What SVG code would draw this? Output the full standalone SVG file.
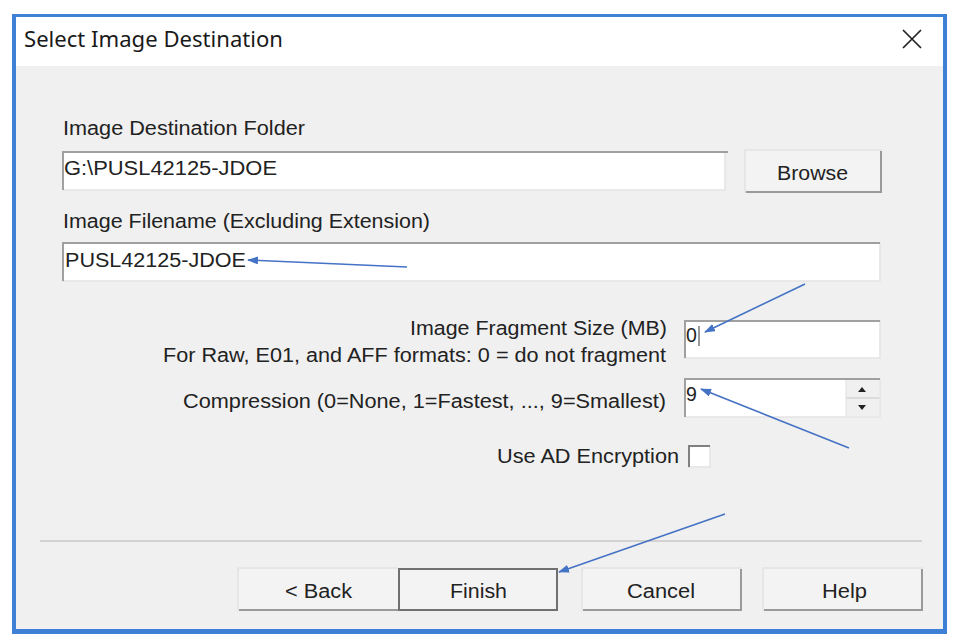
<svg xmlns="http://www.w3.org/2000/svg" width="960" height="644" viewBox="0 0 960 644">
<style>
.lbl{font-family:"Liberation Sans",Arial,sans-serif;font-size:19.5px;fill:#222222}
.ttl{font-family:"Noto Sans","Open Sans",sans-serif;font-size:21px;fill:#1a1a1a}
.box{fill:#ffffff}
.dk{stroke:#a0a0a0;stroke-width:2;fill:none}
.lt{stroke:#e3e3e3;stroke-width:1.5;fill:none}
.btn{fill:#f3f3f3}
.bhi{stroke:#e2e2e2;stroke-width:1.5;fill:none}
.bsh{stroke:#9a9a9a;stroke-width:2;fill:none}
.arr{stroke:#4472c4;stroke-width:1.6;fill:none;marker-end:url(#ah)}
</style>
<defs>
<marker id="ah" markerWidth="11" markerHeight="8" refX="10" refY="4" orient="auto" markerUnits="userSpaceOnUse">
<path d="M0,0 L11,4 L0,8 Z" fill="#4472c4"/>
</marker>
</defs>

<g id="window">
<rect x="12" y="14" width="935" height="620" fill="#3d80d6"/>
<rect x="16" y="17" width="927" height="612" fill="#f0f0f0"/>
<rect x="16" y="17" width="927" height="49" fill="#ffffff"/>
<text class="ttl" x="24" y="47" textLength="259" lengthAdjust="spacingAndGlyphs">Select Image Destination</text>
</g>

<g id="close">
<path d="M903,30 L921,48 M921,30 L903,48" stroke="#222222" stroke-width="1.7" fill="none"/>
</g>

<g id="dest-folder">
<text class="lbl" x="63" y="135" textLength="242" lengthAdjust="spacingAndGlyphs">Image Destination Folder</text>
<rect class="box" x="62" y="151" width="663" height="39"/>
<path class="lt" d="M725,151 L725,190 L62,190"/>
<path class="dk" d="M63,190 L63,152 L728,152"/>
<text class="lbl" x="64" y="175" textLength="213" lengthAdjust="spacingAndGlyphs">G:\PUSL42125-JDOE</text>
</g>

<g id="browse">
<rect class="btn" x="745" y="150" width="137" height="43"/>
<path class="bhi" d="M745,193 L745,150 L882,150"/>
<path class="bsh" d="M746,192 L881,192 L881,151"/>
<text class="lbl" x="777" y="180" textLength="71" lengthAdjust="spacingAndGlyphs">Browse</text>
</g>

<g id="filename">
<text class="lbl" x="63" y="228" textLength="367" lengthAdjust="spacingAndGlyphs">Image Filename (Excluding Extension)</text>
<rect class="box" x="62" y="242" width="818" height="39"/>
<path class="lt" d="M880,242 L880,281 L62,281"/>
<path class="dk" d="M63,281 L63,243 L880,243"/>
<text class="lbl" x="65" y="267" textLength="181" lengthAdjust="spacingAndGlyphs">PUSL42125-JDOE</text>
</g>

<g id="fragment">
<text class="lbl" x="410" y="335" textLength="257" lengthAdjust="spacingAndGlyphs">Image Fragment Size (MB)</text>
<text class="lbl" x="163" y="362" textLength="503" lengthAdjust="spacingAndGlyphs">For Raw, E01, and AFF formats: 0 = do not fragment</text>
<rect class="box" x="684" y="320" width="196" height="38"/>
<path class="lt" d="M880,320 L880,358 L684,358"/>
<path class="dk" d="M685,358 L685,321 L880,321"/>
<text class="lbl" x="686" y="342">0</text>
<line x1="699" y1="326" x2="699" y2="346" stroke="#333333" stroke-width="1"/>
</g>

<g id="compression">
<text class="lbl" x="183" y="408" textLength="483" lengthAdjust="spacingAndGlyphs">Compression (0=None, 1=Fastest, ..., 9=Smallest)</text>
<rect class="box" x="684" y="378" width="196" height="39"/>
<rect x="846" y="380" width="33" height="36" fill="#f0f0f0"/>
<path d="M846,398 L880,398" stroke="#d6d6d6" stroke-width="1.5"/>
<path d="M846,380 L846,416" stroke="#e0e0e0" stroke-width="1"/>
<path class="lt" d="M880,378 L880,417 L684,417"/>
<path class="dk" d="M685,417 L685,379 L880,379"/>
<path d="M858,392 L866,392 L862,387 Z M858,405 L866,405 L862,410 Z" fill="#222222"/>
<text class="lbl" x="686" y="401">9</text>
</g>

<g id="encryption">
<text class="lbl" x="497" y="463" textLength="182" lengthAdjust="spacingAndGlyphs">Use AD Encryption</text>
<rect x="688" y="445" width="22" height="22" fill="#ffffff"/>
<path class="lt" d="M710,445 L710,467 L688,467"/>
<path d="M689,467 L689,446 L710,446" stroke="#808080" stroke-width="2" fill="none"/>
</g>

<g id="separator">
<line x1="40" y1="541" x2="922" y2="541" stroke="#d2d2d2" stroke-width="2"/>
</g>

<g id="back">
<rect class="btn" x="238" y="568" width="160" height="43"/>
<path class="bhi" d="M238,611 L238,568 L398,568"/>
<path class="bsh" d="M239,610 L398,610"/>
<text class="lbl" x="285" y="598" textLength="67" lengthAdjust="spacingAndGlyphs">&lt; Back</text>
</g>

<g id="finish">
<rect x="399" y="569" width="158" height="41" fill="#f3f3f3" stroke="#707070" stroke-width="2"/>
<text class="lbl" x="450" y="598" textLength="57" lengthAdjust="spacingAndGlyphs">Finish</text>
</g>

<g id="cancel">
<rect class="btn" x="582" y="568" width="160" height="43"/>
<path class="bhi" d="M582,611 L582,568 L742,568"/>
<path class="bsh" d="M583,610 L741,610 L741,569"/>
<text class="lbl" x="627" y="598" textLength="68" lengthAdjust="spacingAndGlyphs">Cancel</text>
</g>

<g id="help">
<rect class="btn" x="763" y="568" width="160" height="43"/>
<path class="bhi" d="M763,611 L763,568 L923,568"/>
<path class="bsh" d="M764,610 L922,610 L922,569"/>
<text class="lbl" x="822" y="598" textLength="45" lengthAdjust="spacingAndGlyphs">Help</text>
</g>

<g id="connectors">
<path class="arr" d="M407,267 L248,260"/>
<path class="arr" d="M805,284 L705,332"/>
<path class="arr" d="M849,448 L701,389"/>
<path class="arr" d="M725,514 L559,572"/>
</g>
</svg>
